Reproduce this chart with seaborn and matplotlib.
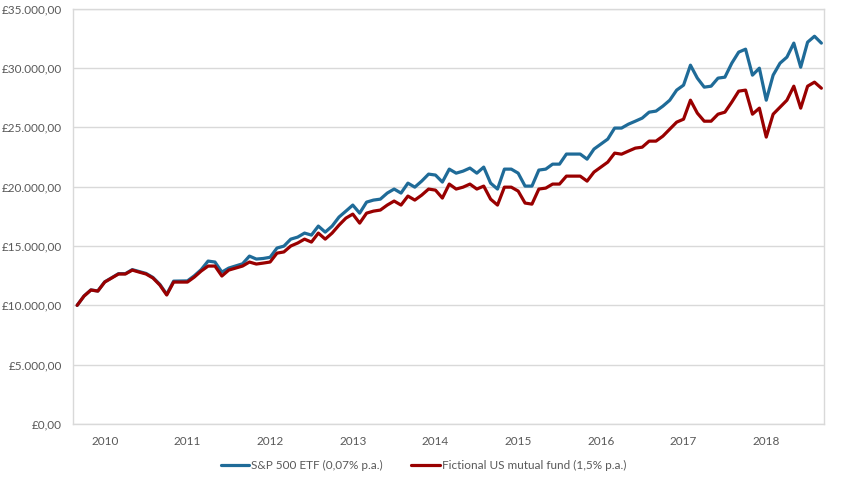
import pandas as pd
import matplotlib.pyplot as plt
import seaborn as sns

# monthly values, Sep 2009 .. Sep 2018
etf = [10000, 10790, 11300, 11210, 11980, 12320, 12670, 12670, 13010, 12850,
       12690, 12350, 11770, 10930, 12040, 12050, 12060, 12490, 13010, 13730,
       13650, 12800, 13140, 13320, 13500, 14150, 13900, 13950, 14050, 14830,
       14990, 15580, 15750, 16090, 15920, 16680, 16170, 16680, 17440, 17940,
       18450, 17770, 18700, 18870, 18950, 19460, 19800, 19460, 20300, 19960,
       20470, 21060, 20980, 20390, 21480, 21140, 21310, 21570, 21140, 21650,
       20300, 19800, 21480, 21480, 21140, 20050, 20050, 21400, 21480, 21900,
       21900, 22750, 22750, 22750, 22320, 23170, 23590, 24010, 24940, 24940,
       25270, 25520, 25780, 26280, 26370, 26790, 27290, 28140, 28560, 30240,
       29150, 28390, 28470, 29150, 29230, 30410, 31340, 31590, 29400, 29990,
       27290, 29400, 30410, 30920, 32100, 30070, 32180, 32680, 32100]

fund = [10000, 10780, 11290, 11200, 11960, 12300, 12640, 12640, 12970, 12800,
        12640, 12300, 11710, 10870, 11960, 11960, 11960, 12380, 12890, 13310,
        13310, 12470, 12970, 13140, 13310, 13650, 13480, 13560, 13650, 14400,
        14500, 15000, 15250, 15580, 15330, 16090, 15580, 16090, 16760, 17350,
        17690, 16930, 17770, 17940, 18030, 18450, 18790, 18450, 19210, 18870,
        19290, 19800, 19710, 19040, 20220, 19800, 19960, 20220, 19800, 20050,
        18950, 18450, 19960, 19960, 19630, 18620, 18530, 19800, 19880, 20220,
        20220, 20890, 20890, 20890, 20470, 21230, 21650, 22070, 22830, 22740,
        23000, 23250, 23330, 23840, 23840, 24260, 24850, 25440, 25690, 27290,
        26200, 25520, 25520, 26110, 26280, 27130, 28050, 28140, 26110, 26620,
        24180, 26110, 26700, 27290, 28470, 26620, 28470, 28810, 28300]

years = [2010, 2011, 2012, 2013, 2014, 2015, 2016, 2017, 2018]
year_pos = [4 + 12 * k for k in range(len(years))]  # January of each year

labels = ['S&P 500 ETF (0,07% p.a.)', 'Fictional US mutual fund (1,5% p.a.)']

df = pd.concat([
    pd.DataFrame({'month': range(len(etf)), 'value': etf, 'series': labels[0]}),
    pd.DataFrame({'month': range(len(fund)), 'value': fund, 'series': labels[1]}),
])

sns.set_style('white')
plt.rcParams['font.family'] = ['Lato', 'DejaVu Sans']

fig = plt.figure(figsize=(8.47, 4.84), dpi=100)
ax = fig.add_axes([0.0862, 0.124, 0.8868, 0.858])

sns.lineplot(data=df, x='month', y='value', hue='series',
             palette=['#1f6b98', '#990000'], linewidth=2.3, ax=ax, legend=False)

ax.set_xlim(-0.6, 108.4)
ax.set_ylim(0, 35000)
yt = list(range(0, 35001, 5000))
ax.set_yticks(yt)
ax.set_yticklabels(['£' + f'{v:,.2f}'.replace(',', 'X').replace('.', ',').replace('X', '.') for v in yt])
ax.set_xticks(year_pos)
ax.set_xticklabels([str(y) for y in years])
ax.set_xlabel('')
ax.set_ylabel('')

ax.grid(axis='y', color='#d9d9d9', linewidth=1)
ax.set_axisbelow(True)
for s in ax.spines.values():
    s.set_color('#d9d9d9')
    s.set_linewidth(1)
ax.tick_params(axis='both', length=0, labelsize=8.5, colors='#595959')
ax.tick_params(axis='y', pad=8)
ax.tick_params(axis='x', pad=9)

handles = [plt.Line2D([], [], color='#1f6b98', lw=2.3),
           plt.Line2D([], [], color='#990000', lw=2.3)]
leg = fig.legend(handles, labels, loc='center', bbox_to_anchor=(0.5, 0.039),
                 ncol=2, frameon=False, fontsize=8.5, handlelength=2.4,
                 handletextpad=0.2, columnspacing=2.4)
for t in leg.get_texts():
    t.set_color('#595959')

fig.savefig('out.png', dpi=100)
